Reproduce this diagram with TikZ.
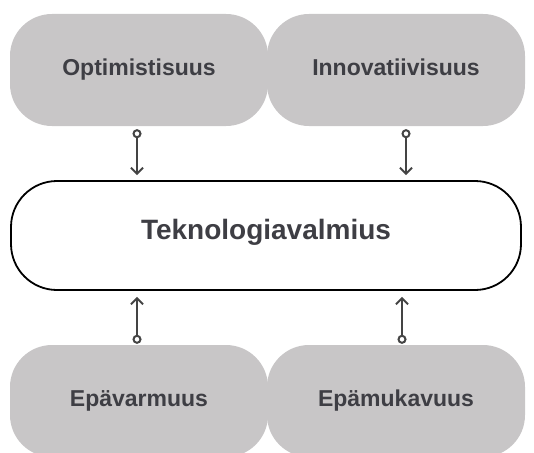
\documentclass[tikz,border=0pt]{standalone}
\usepackage{fontspec}
\setmainfont{Liberation Sans}
\usetikzlibrary{arrows.meta}
\definecolor{boxgray}{RGB}{200,198,199}
\definecolor{txt}{RGB}{62,62,68}
\definecolor{arr}{RGB}{68,68,68}
\tikzset{
  graybox/.style={fill=boxgray, draw=none, rounded corners=42pt, minimum width=258pt, minimum height=112pt, inner sep=0pt, text height=1.02em, text depth=0em, font=\bfseries\fontsize{23}{26}\selectfont, text=txt},
  mainbox/.style={fill=white, draw=black, line width=1.8pt, rounded corners=46pt, minimum width=510pt, minimum height=109pt, inner sep=0pt, text height=0.86em, text depth=0em, font=\bfseries\fontsize{28}{32}\selectfont, text=txt},
  conn/.style={draw=arr, line width=2pt, {Circle[open,length=9pt,width=9pt]}-{Straight Barb[length=6pt,width=12pt]}},
}
\begin{document}
\begin{tikzpicture}[x=1pt,y=-1pt]
\useasboundingbox (0,0) rectangle (534,452);
\node[graybox] (opt) at (139,70) {Optimistisuus};
\node[graybox] (inn) at (396,70) {Innovatiivisuus};
\node[mainbox] (tek) at (266,235.5) {Teknologiavalmius};
\node[graybox] (var) at (139,401) {Epävarmuus};
\node[graybox] (muk) at (396,401) {Epämukavuus};
\coordinate (c1) at (137,0);
\coordinate (c2) at (406,0);
\coordinate (c3) at (137,0);
\coordinate (c4) at (402,0);
\draw[conn, shorten <=3pt, shorten >=5pt] (opt.south -| c1) -- (tek.north -| c1);
\draw[conn, shorten <=3pt, shorten >=5pt] (inn.south -| c2) -- (tek.north -| c2);
\draw[conn, shorten <=1pt, shorten >=6pt] (var.north -| c3) -- (tek.south -| c3);
\draw[conn, shorten <=1pt, shorten >=6pt] (muk.north -| c4) -- (tek.south -| c4);
\end{tikzpicture}
\end{document}
